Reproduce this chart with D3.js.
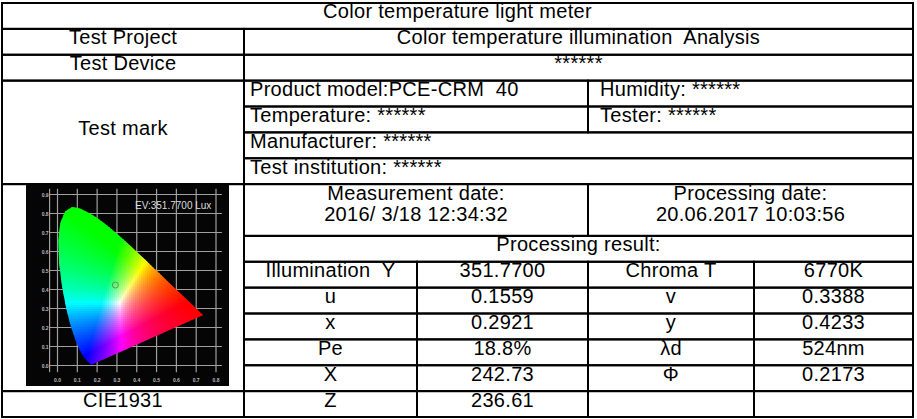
<!DOCTYPE html>
<html>
<head>
<meta charset="utf-8">
<script src="https://cdn.jsdelivr.net/npm/d3@7"></script>
<style>
  html, body { margin: 0; padding: 0; background: #fff; }
  svg { display: block; }
  text { font-family: "Liberation Sans", Arial, sans-serif; fill: #000; white-space: pre; }
</style>
</head>
<body>
<svg id="chart" width="917" height="419"></svg>
<script>
// ---------------- DATA ----------------
const title = "Color temperature light meter";
const headerLabels = ["Test Project", "Test Device", "Test mark"];
const headerValues = ["Color temperature illumination  Analysis", "******"];
const markLeft = ["Product model:PCE-CRM  40", "Temperature: ******", "Manufacturer: ******", "Test institution: ******"];
const markRight = ["Humidity: ******", "Tester: ******"];
const dateLabels = ["Measurement date:", "Processing date:"];
const dateValues = ["2016/ 3/18 12:34:32", "20.06.2017 10:03:56"];
const resultTitle = "Processing result:";
const resultNames1 = ["Illumination  Y", "u", "x", "Pe", "X", "Z"];
const resultValues1 = ["351.7700", "0.1559", "0.2921", "18.8%", "242.73", "236.61"];
const resultNames2 = ["Chroma T", "v", "y", "λd", "Φ", ""];
const resultValues2 = ["6770K", "0.3388", "0.4233", "524nm", "0.2173", ""];
const diagramCaption = "CIE1931";
const evLabel = "EV:351.7700 Lux";
const pointX = 0.2921, pointY = 0.4233;
const xTicks = [0, 0.1, 0.2, 0.3, 0.4, 0.5, 0.6, 0.7, 0.8];
const yTicks = [0, 0.1, 0.2, 0.3, 0.4, 0.5, 0.6, 0.7, 0.8, 0.9];
// CIE 1931 2° spectral locus (x, y)
const locusX = [0.1741,0.1733,0.1726,0.1714,0.1689,0.1644,0.1566,0.1440,0.1241,0.1096,0.0913,0.0687,0.0454,0.0235,0.0082,0.0039,0.0139,0.0389,0.0743,0.1142,0.1547,0.1929,0.2296,0.2658,0.3016,0.3373,0.3731,0.4087,0.4441,0.4788,0.5125,0.5448,0.5752,0.6029,0.6270,0.6658,0.6915,0.7079,0.7190,0.7260,0.7300,0.7334,0.7347];
const locusY = [0.0050,0.0048,0.0048,0.0051,0.0069,0.0109,0.0177,0.0297,0.0578,0.0868,0.1327,0.2007,0.2950,0.4127,0.5384,0.6548,0.7502,0.8120,0.8338,0.8262,0.8059,0.7816,0.7543,0.7243,0.6923,0.6589,0.6245,0.5896,0.5547,0.5202,0.4866,0.4544,0.4242,0.3965,0.3725,0.3340,0.3083,0.2920,0.2809,0.2740,0.2700,0.2666,0.2653];

// ---------------- LAYOUT ----------------
const svg = d3.select("#chart");
const colEdges = [2, 244, 417, 588, 754, 913];
const row = d3.scaleLinear().domain([0, 16]).range([3, 417]);
const FS = 20;

const cells = [];
function cell(c0, c1, r0, r1, lines, align, pad) {
  cells.push({c0, c1, r0, r1, lines: Array.isArray(lines) ? lines : [lines], align: align || "middle", pad: pad || 0});
}
cell(0, 5, 0, 1, title);
cell(0, 1, 1, 2, headerLabels[0]);
cell(1, 5, 1, 2, headerValues[0]);
cell(0, 1, 2, 3, headerLabels[1]);
cell(1, 5, 2, 3, headerValues[1]);
cell(0, 1, 3, 7, headerLabels[2]);
cell(1, 3, 3, 4, markLeft[0], "start", 6);
cell(3, 5, 3, 4, markRight[0], "start", 12);
cell(1, 3, 4, 5, markLeft[1], "start", 6);
cell(3, 5, 4, 5, markRight[1], "start", 12);
cell(1, 5, 5, 6, markLeft[2], "start", 6);
cell(1, 5, 6, 7, markLeft[3], "start", 6);
cell(0, 1, 7, 15, []);
cell(1, 3, 7, 9, [dateLabels[0], dateValues[0]]);
cell(3, 5, 7, 9, [dateLabels[1], dateValues[1]]);
cell(1, 5, 9, 10, resultTitle);
resultNames1.forEach((n, i) => {
  cell(1, 2, 10 + i, 11 + i, n);
  cell(2, 3, 10 + i, 11 + i, resultValues1[i]);
  cell(3, 4, 10 + i, 11 + i, resultNames2[i]);
  cell(4, 5, 10 + i, 11 + i, resultValues2[i]);
});
cell(0, 1, 15, 16, diagramCaption);

const g = svg.append("g");
g.selectAll("rect.cell").data(cells).join("rect")
  .attr("class", "cell")
  .attr("x", d => colEdges[d.c0]).attr("y", d => row(d.r0))
  .attr("width", d => colEdges[d.c1] - colEdges[d.c0])
  .attr("height", d => row(d.r1) - row(d.r0))
  .attr("fill", "none").attr("stroke", "#000").attr("stroke-width", 2);

cells.forEach(d => {
  const x0 = colEdges[d.c0], x1 = colEdges[d.c1];
  const tx = d.align === "start" ? x0 + d.pad : (x0 + x1) / 2;
  const n = d.lines.length;
  const yTop = row(d.r0), yBot = row(d.r1);
  d.lines.forEach((t, i) => {
    let by;
    if (n === 1) by = (yTop + yBot) / 2 + 2.5;
    else by = yTop + 16 + i * 21;
    g.append("text").attr("x", tx).attr("y", by)
      .attr("text-anchor", d.align)
      .attr("font-size", FS)
      .attr("letter-spacing", 0.3)
      .attr("xml:space", "preserve")
      .text(t);
  });
});

// ---------------- CIE DIAGRAM ----------------
const dg = svg.append("g");
dg.append("rect").attr("x", 26).attr("y", 185).attr("width", 203).attr("height", 201).attr("fill", "#050505");
const xs = d3.scaleLinear().domain([0, 0.8]).range([57.5, 216]);
const ys = d3.scaleLinear().domain([0, 0.9]).range([365.5, 194.5]);

// grid
dg.selectAll("line.vg").data(xTicks).join("line").attr("class", "vg")
  .attr("x1", d => xs(d)).attr("x2", d => xs(d)).attr("y1", ys(0.93)).attr("y2", ys(-0.035))
  .attr("stroke", "#a0a0a0").attr("stroke-width", 1.2);
dg.selectAll("line.hg").data(yTicks).join("line").attr("class", "hg")
  .attr("y1", d => ys(d)).attr("y2", d => ys(d)).attr("x1", xs(-0.04)).attr("x2", xs(0.83))
  .attr("stroke", "#a0a0a0").attr("stroke-width", 1.2);
dg.append("line").attr("x1", xs(-0.04)).attr("x2", xs(-0.04)).attr("y1", ys(0.93)).attr("y2", ys(-0.035))
  .attr("stroke", "#a0a0a0").attr("stroke-width", 1.2);

dg.selectAll("text.yl").data(yTicks).join("text").attr("class", "yl")
  .attr("x", xs(-0.045)).attr("y", d => ys(d) + 2).attr("text-anchor", "end")
  .attr("font-size", 5).attr("font-weight", "bold").style("fill", "#bbb")
  .text(d => d.toFixed(1));
dg.selectAll("text.xl").data(xTicks).join("text").attr("class", "xl")
  .attr("x", d => xs(d)).attr("y", ys(-0.085)).attr("text-anchor", "middle")
  .attr("font-size", 5).attr("font-weight", "bold").style("fill", "#bbb")
  .text(d => d.toFixed(1));

// horseshoe fill
const locus = locusX.map((x, i) => [x, locusY[i]]);
const line = d3.line().x(d => xs(d[0])).y(d => ys(d[1])).curve(d3.curveLinearClosed);
svg.append("defs").append("clipPath").attr("id", "hs").append("path").attr("d", line(locus));
const fillG = dg.append("g").attr("clip-path", "url(#hs)");
function xyToRgb(x, y) {
  const X = x / y, Y = 1, Z = (1 - x - y) / y;
  let r = 3.2406 * X - 1.5372 * Y - 0.4986 * Z;
  let gg = -0.9689 * X + 1.8758 * Y + 0.0415 * Z;
  let b = 0.0557 * X - 0.2040 * Y + 1.0570 * Z;
  r = Math.max(0, r); gg = Math.max(0, gg); b = Math.max(0, b);
  const m = Math.max(r, gg, b) || 1;
  const gam = v => Math.round(255 * Math.pow(v / m, 1 / 1.15));
  return `rgb(${gam(r)},${gam(gg)},${gam(b)})`;
}
const step = 2;
const px0 = Math.floor(xs(0)), px1 = Math.ceil(xs(0.74));
const py0 = Math.floor(ys(0.84)), py1 = Math.ceil(ys(0));
const pix = [];
for (let px = px0; px <= px1; px += step) {
  for (let py = py0; py <= py1; py += step) {
    const x = xs.invert(px + step / 2), y = Math.max(0.004, ys.invert(py + step / 2));
    pix.push({px, py, c: xyToRgb(x, y)});
  }
}
fillG.selectAll("rect").data(pix).join("rect")
  .attr("x", d => d.px).attr("y", d => d.py).attr("width", step + 0.5).attr("height", step + 0.5)
  .attr("fill", d => d.c);

dg.append("text").attr("x", 135).attr("y", 209).attr("font-size", 10).style("fill", "#ddd").text(evLabel);
dg.append("circle").attr("cx", xs(pointX)).attr("cy", ys(pointY)).attr("r", 3)
  .attr("fill", "none").attr("stroke", "#6b8f4a").attr("stroke-width", 1);
</script>
</body>
</html>
